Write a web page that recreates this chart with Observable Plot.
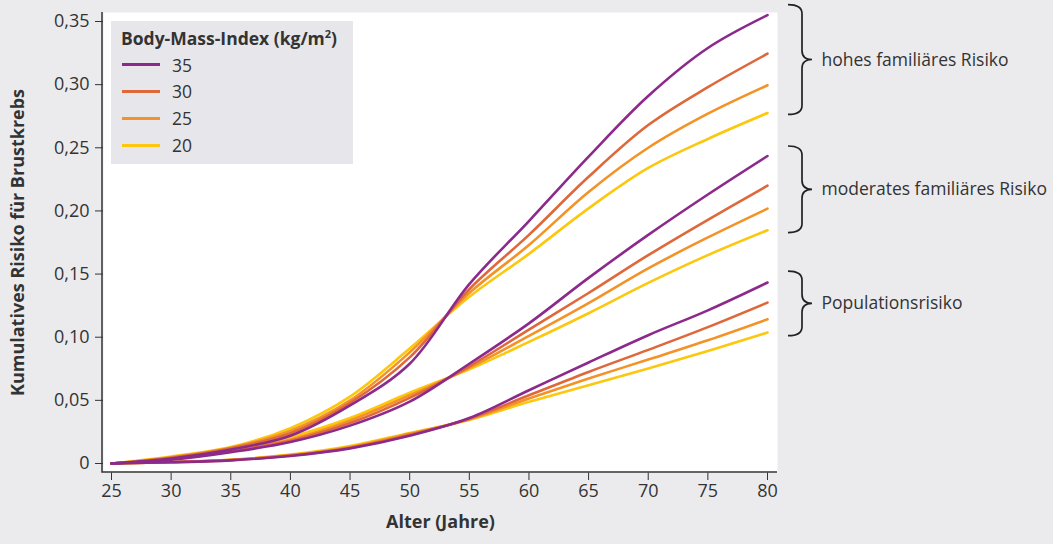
<!DOCTYPE html>
<html>
<head>
<meta charset="utf-8">
<script src="https://cdn.jsdelivr.net/npm/d3@7"></script>
<script src="https://cdn.jsdelivr.net/npm/@observablehq/plot@0.6"></script>
<style>
  html, body { margin: 0; padding: 0; background: #ebebee; }
  #wrap { position: relative; width: 1053px; height: 544px; font-family: "Open Sans", sans-serif; color: #333; }
  #legend { position: absolute; left: 111px; top: 21px; width: 242px; height: 143px; background: #e7e7eb; }
  #legend .title { position: absolute; left: 10px; top: 17px; transform: translateY(-50%); font-weight: bold; font-size: 17.5px; white-space: nowrap; }
  #legend .title sup { font-size: 11px; vertical-align: 0.6em; line-height: 0; }
  #legend .sw { position: absolute; left: 11px; width: 38px; height: 3px; }
  #legend .lab { position: absolute; left: 61px; transform: translateY(-50%); font-size: 17.5px; }
</style>
</head>
<body>
<div id="wrap"><div id="legend"></div></div>
<script>
// ---- data ----
const ages = [25, 30, 35, 40, 45, 50, 55, 60, 65, 70, 75, 80];
const bmiLevels = ["35", "30", "25", "20"];
const bmiColors = ["#8c2a8c", "#df683b", "#f39327", "#fdc70e"];
const riskGroups = ["hohes familiäres Risiko", "moderates familiäres Risiko", "Populationsrisiko"];

// hohes familiäres Risiko
const high35 = [0, 0.004, 0.011, 0.022, 0.046, 0.079, 0.142, 0.192, 0.243, 0.291, 0.329, 0.355];
const high30 = [0, 0.0045, 0.012, 0.024, 0.048, 0.084, 0.138, 0.181, 0.227, 0.268, 0.298, 0.3245];
const high25 = [0, 0.005, 0.0125, 0.026, 0.050, 0.088, 0.135, 0.173, 0.215, 0.250, 0.277, 0.2995];
const high20 = [0, 0.0055, 0.013, 0.028, 0.053, 0.091, 0.132, 0.166, 0.202, 0.234, 0.257, 0.2775];
// moderates familiäres Risiko
const mod35 = [0, 0.003, 0.009, 0.017, 0.030, 0.049, 0.079, 0.111, 0.147, 0.181, 0.213, 0.2435];
const mod30 = [0, 0.0035, 0.0095, 0.018, 0.032, 0.052, 0.077, 0.106, 0.135, 0.165, 0.193, 0.220];
const mod25 = [0, 0.004, 0.010, 0.019, 0.034, 0.054, 0.0757, 0.101, 0.127, 0.1545, 0.179, 0.2018];
const mod20 = [0, 0.0045, 0.011, 0.021, 0.036, 0.056, 0.0746, 0.0963, 0.119, 0.143, 0.165, 0.1847];
// Populationsrisiko
const pop35 = [0, 0.001, 0.0025, 0.006, 0.012, 0.022, 0.036, 0.058, 0.080, 0.1016, 0.1213, 0.1433];
const pop30 = [0, 0.001, 0.0027, 0.0063, 0.0125, 0.0228, 0.0355, 0.054, 0.0725, 0.090, 0.108, 0.1274];
const pop25 = [0, 0.0011, 0.0029, 0.0066, 0.013, 0.0235, 0.035, 0.0514, 0.0673, 0.0823, 0.0976, 0.1142];
const pop20 = [0, 0.0012, 0.003, 0.007, 0.0138, 0.0242, 0.0345, 0.0488, 0.062, 0.0752, 0.089, 0.1037];

const xTicks = [25, 30, 35, 40, 45, 50, 55, 60, 65, 70, 75, 80];
const yTicks = [0, 0.05, 0.10, 0.15, 0.20, 0.25, 0.30, 0.35];
const braceTop = [0.363, 0.251, 0.152];
const braceBottom = [0.276, 0.1825, 0.1008];

// ---- build table ----
const seriesByGroup = [
  [high35, high30, high25, high20],
  [mod35, mod30, mod25, mod20],
  [pop35, pop30, pop25, pop20]
];
const rows = [];
// draw order: 20 first, 35 last (on top)
for (let bi = bmiLevels.length - 1; bi >= 0; bi--) {
  seriesByGroup.forEach((grp, gi) => {
    grp[bi].forEach((v, i) => rows.push({group: riskGroups[gi], bmi: bmiLevels[bi], key: gi + "-" + bmiLevels[bi], age: ages[i], risk: v}));
  });
}
const fmt = d => d === 0 ? "0" : d.toFixed(2).replace(".", ",");

const axisLines = (index, scales, values, dims) => {
  const l = dims.marginLeft - 1, b = dims.height - dims.marginBottom;
  const r = dims.width - dims.marginRight, t = dims.marginTop;
  const p = d3.create("svg:path")
    .attr("d", `M${l},${t}V${b}H${r}`)
    .attr("fill", "none").attr("stroke", "#333").attr("stroke-width", 1.5);
  return p.node();
};

const braces = (index, scales) => {
  const g = d3.create("svg:g").attr("fill", "none").attr("stroke", "#222").attr("stroke-width", 1.7);
  const x0 = scales.x(80) + 21, xm = x0 + 14, xt = x0 + 24, r = 9;
  riskGroups.forEach((name, i) => {
    const y1 = scales.y(braceTop[i]), y2 = scales.y(braceBottom[i]), ym = (y1 + y2) / 2;
    g.append("path").attr("d",
      `M${x0},${y1}Q${xm},${y1} ${xm},${y1 + r}V${ym - r}Q${xm},${ym} ${xt},${ym}` +
      `Q${xm},${ym} ${xm},${ym + r}V${y2 - r}Q${xm},${y2} ${x0},${y2}`);
  });
  return g.node();
};

const chart = Plot.plot({
  width: 1053,
  height: 544,
  marginLeft: 103, marginRight: 276, marginTop: 12, marginBottom: 72,
  insetLeft: 8, insetRight: 10, insetTop: 9, insetBottom: 9,
  style: {fontFamily: "Open Sans", fontSize: "18px", color: "#333", background: "transparent", overflow: "visible"},
  x: {domain: [25, 80], ticks: xTicks, tickSize: 8, tickPadding: 4, label: null},
  y: {domain: [0, 0.35], ticks: yTicks, tickSize: 8, tickPadding: 6, tickFormat: fmt, label: null},
  color: {domain: bmiLevels, range: bmiColors},
  marks: [
    Plot.frame({fill: "white", stroke: null}),
    axisLines,
    Plot.line(rows, {x: "age", y: "risk", z: "key", stroke: "bmi", strokeWidth: 2.6, curve: "catmull-rom"}),
    braces,
    Plot.text(riskGroups, {x: () => 80, y: (d, i) => (braceTop[i] + braceBottom[i]) / 2, dx: 54, textAnchor: "start", fill: "#333", fontSize: 17.5}),
    Plot.text(["Alter (Jahre)"], {frameAnchor: "bottom", dy: 55, fontWeight: "bold", fill: "#333", fontSize: 18}),
    Plot.text(["Kumulatives Risiko für Brustkrebs"], {frameAnchor: "left", dx: -85, rotate: -90, textAnchor: "middle", fontWeight: "bold", fill: "#333", fontSize: 18})
  ]
});
document.getElementById("wrap").prepend(chart);

// ---- legend ----
const legend = document.getElementById("legend");
const title = document.createElement("div");
title.className = "title";
title.innerHTML = "Body-Mass-Index (kg/m<sup>2</sup>)";
legend.appendChild(title);
bmiLevels.forEach((b, i) => {
  const cy = 43.5 + i * 26.9;
  const sw = document.createElement("div");
  sw.className = "sw";
  sw.style.top = (cy - 1.5) + "px";
  sw.style.background = bmiColors[i];
  legend.appendChild(sw);
  const lab = document.createElement("div");
  lab.className = "lab";
  lab.style.top = cy + "px";
  lab.textContent = b;
  legend.appendChild(lab);
});
</script>
</body>
</html>
